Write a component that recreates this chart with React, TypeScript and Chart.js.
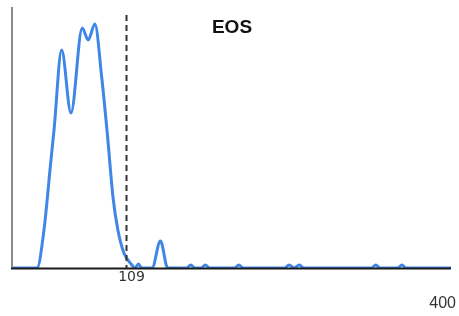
import React, { useEffect, useRef } from "react";
import { Chart, registerables } from "chart.js";

Chart.register(...registerables);

const xValues = [0, 23.9, 30.6, 37, 40.2, 47.5, 56.4, 67.2, 72.9, 79.3, 85.8, 91.3, 96.6, 101.3, 107.1, 114.7, 117.6, 121, 124, 134, 142, 149, 167, 171, 175, 181, 185, 189, 213, 217, 221, 261, 265, 270, 275, 279, 344, 348, 352, 369, 373, 377, 420];
const yValues = [0, 0, 38, 105, 138, 218, 155, 240, 228, 244, 191, 133, 71, 38, 15, 3, 0, 4, 0, 0, 27, 0, 0, 3, 0, 0, 3, 0, 0, 3, 0, 0, 3, 0, 3, 0, 0, 3, 0, 0, 3, 0, 0];
const markerValue = 109;
const markerLabel = "109";
const axisEndLabel = "400";
const titleText = "EOS";

export default function App() {
  const ref = useRef<HTMLCanvasElement | null>(null);
  useEffect(() => {
    document.body.style.margin = "0";
    const canvas = ref.current!;
    const overlay = {
      id: "overlay",
      afterDatasetsDraw(chart: any) {
        const { ctx, chartArea, scales } = chart;
        const x = scales.x;
        const y = scales.y;
        ctx.save();
        // y axis line
        ctx.strokeStyle = "#8a8a8a";
        ctx.lineWidth = 2;
        ctx.beginPath();
        ctx.moveTo(chartArea.left, chartArea.top);
        ctx.lineTo(chartArea.left, y.getPixelForValue(0));
        ctx.stroke();
        // x axis line
        ctx.strokeStyle = "#1a1a1a";
        ctx.lineWidth = 2;
        ctx.beginPath();
        ctx.moveTo(chartArea.left - 1, y.getPixelForValue(0) + 0.5);
        ctx.lineTo(chartArea.right, y.getPixelForValue(0) + 0.5);
        ctx.stroke();
        // dashed marker
        const mx = Math.round(x.getPixelForValue(markerValue)) + 0.5;
        ctx.strokeStyle = "#333";
        ctx.lineWidth = 2;
        ctx.setLineDash([6, 4]);
        ctx.beginPath();
        ctx.moveTo(mx, chartArea.top + 8);
        ctx.lineTo(mx, y.getPixelForValue(0));
        ctx.stroke();
        ctx.setLineDash([]);
        // labels
        ctx.fillStyle = "#333";
        ctx.font = "14px 'DejaVu Sans', Verdana, sans-serif";
        ctx.textAlign = "center";
        ctx.textBaseline = "middle";
        ctx.fillText(markerLabel, mx + 5, y.getPixelForValue(0) + 9);
        ctx.font = "16px 'Liberation Sans', Arial, sans-serif";
        ctx.textAlign = "right";
        ctx.fillText(axisEndLabel, chartArea.right + 5, y.getPixelForValue(0) + 36);
        ctx.fillStyle = "#111";
        ctx.font = "bold 19px 'Liberation Sans', Arial, sans-serif";
        ctx.textAlign = "center";
        ctx.fillText(titleText, 232, 28);
        ctx.restore();
      },
    };
    const chart = new Chart(canvas, {
      type: "line",
      data: {
        datasets: [
          {
            data: xValues.map((v, i) => ({ x: v, y: yValues[i] })),
            borderColor: "#3f86e6",
            borderWidth: 3,
            pointRadius: 0,
            fill: false,
            cubicInterpolationMode: "monotone",
          },
        ],
      },
      options: {
        animation: false,
        responsive: false,
        maintainAspectRatio: false,
        layout: { padding: { left: 12, right: 8, top: 7, bottom: 48 } },
        plugins: { legend: { display: false }, tooltip: { enabled: false }, title: { display: false } },
        scales: {
          x: { type: "linear", min: 0, max: 420, display: false },
          y: { min: 0, max: 261, display: false },
        },
      },
      plugins: [overlay],
    });
    return () => chart.destroy();
  }, []);
  return (
    <div style={{ position: "fixed", left: 0, top: 0, width: 459, height: 316, background: "#fff" }}>
      <canvas ref={ref} width={459} height={316} style={{ width: 459, height: 316 }} />
    </div>
  );
}
